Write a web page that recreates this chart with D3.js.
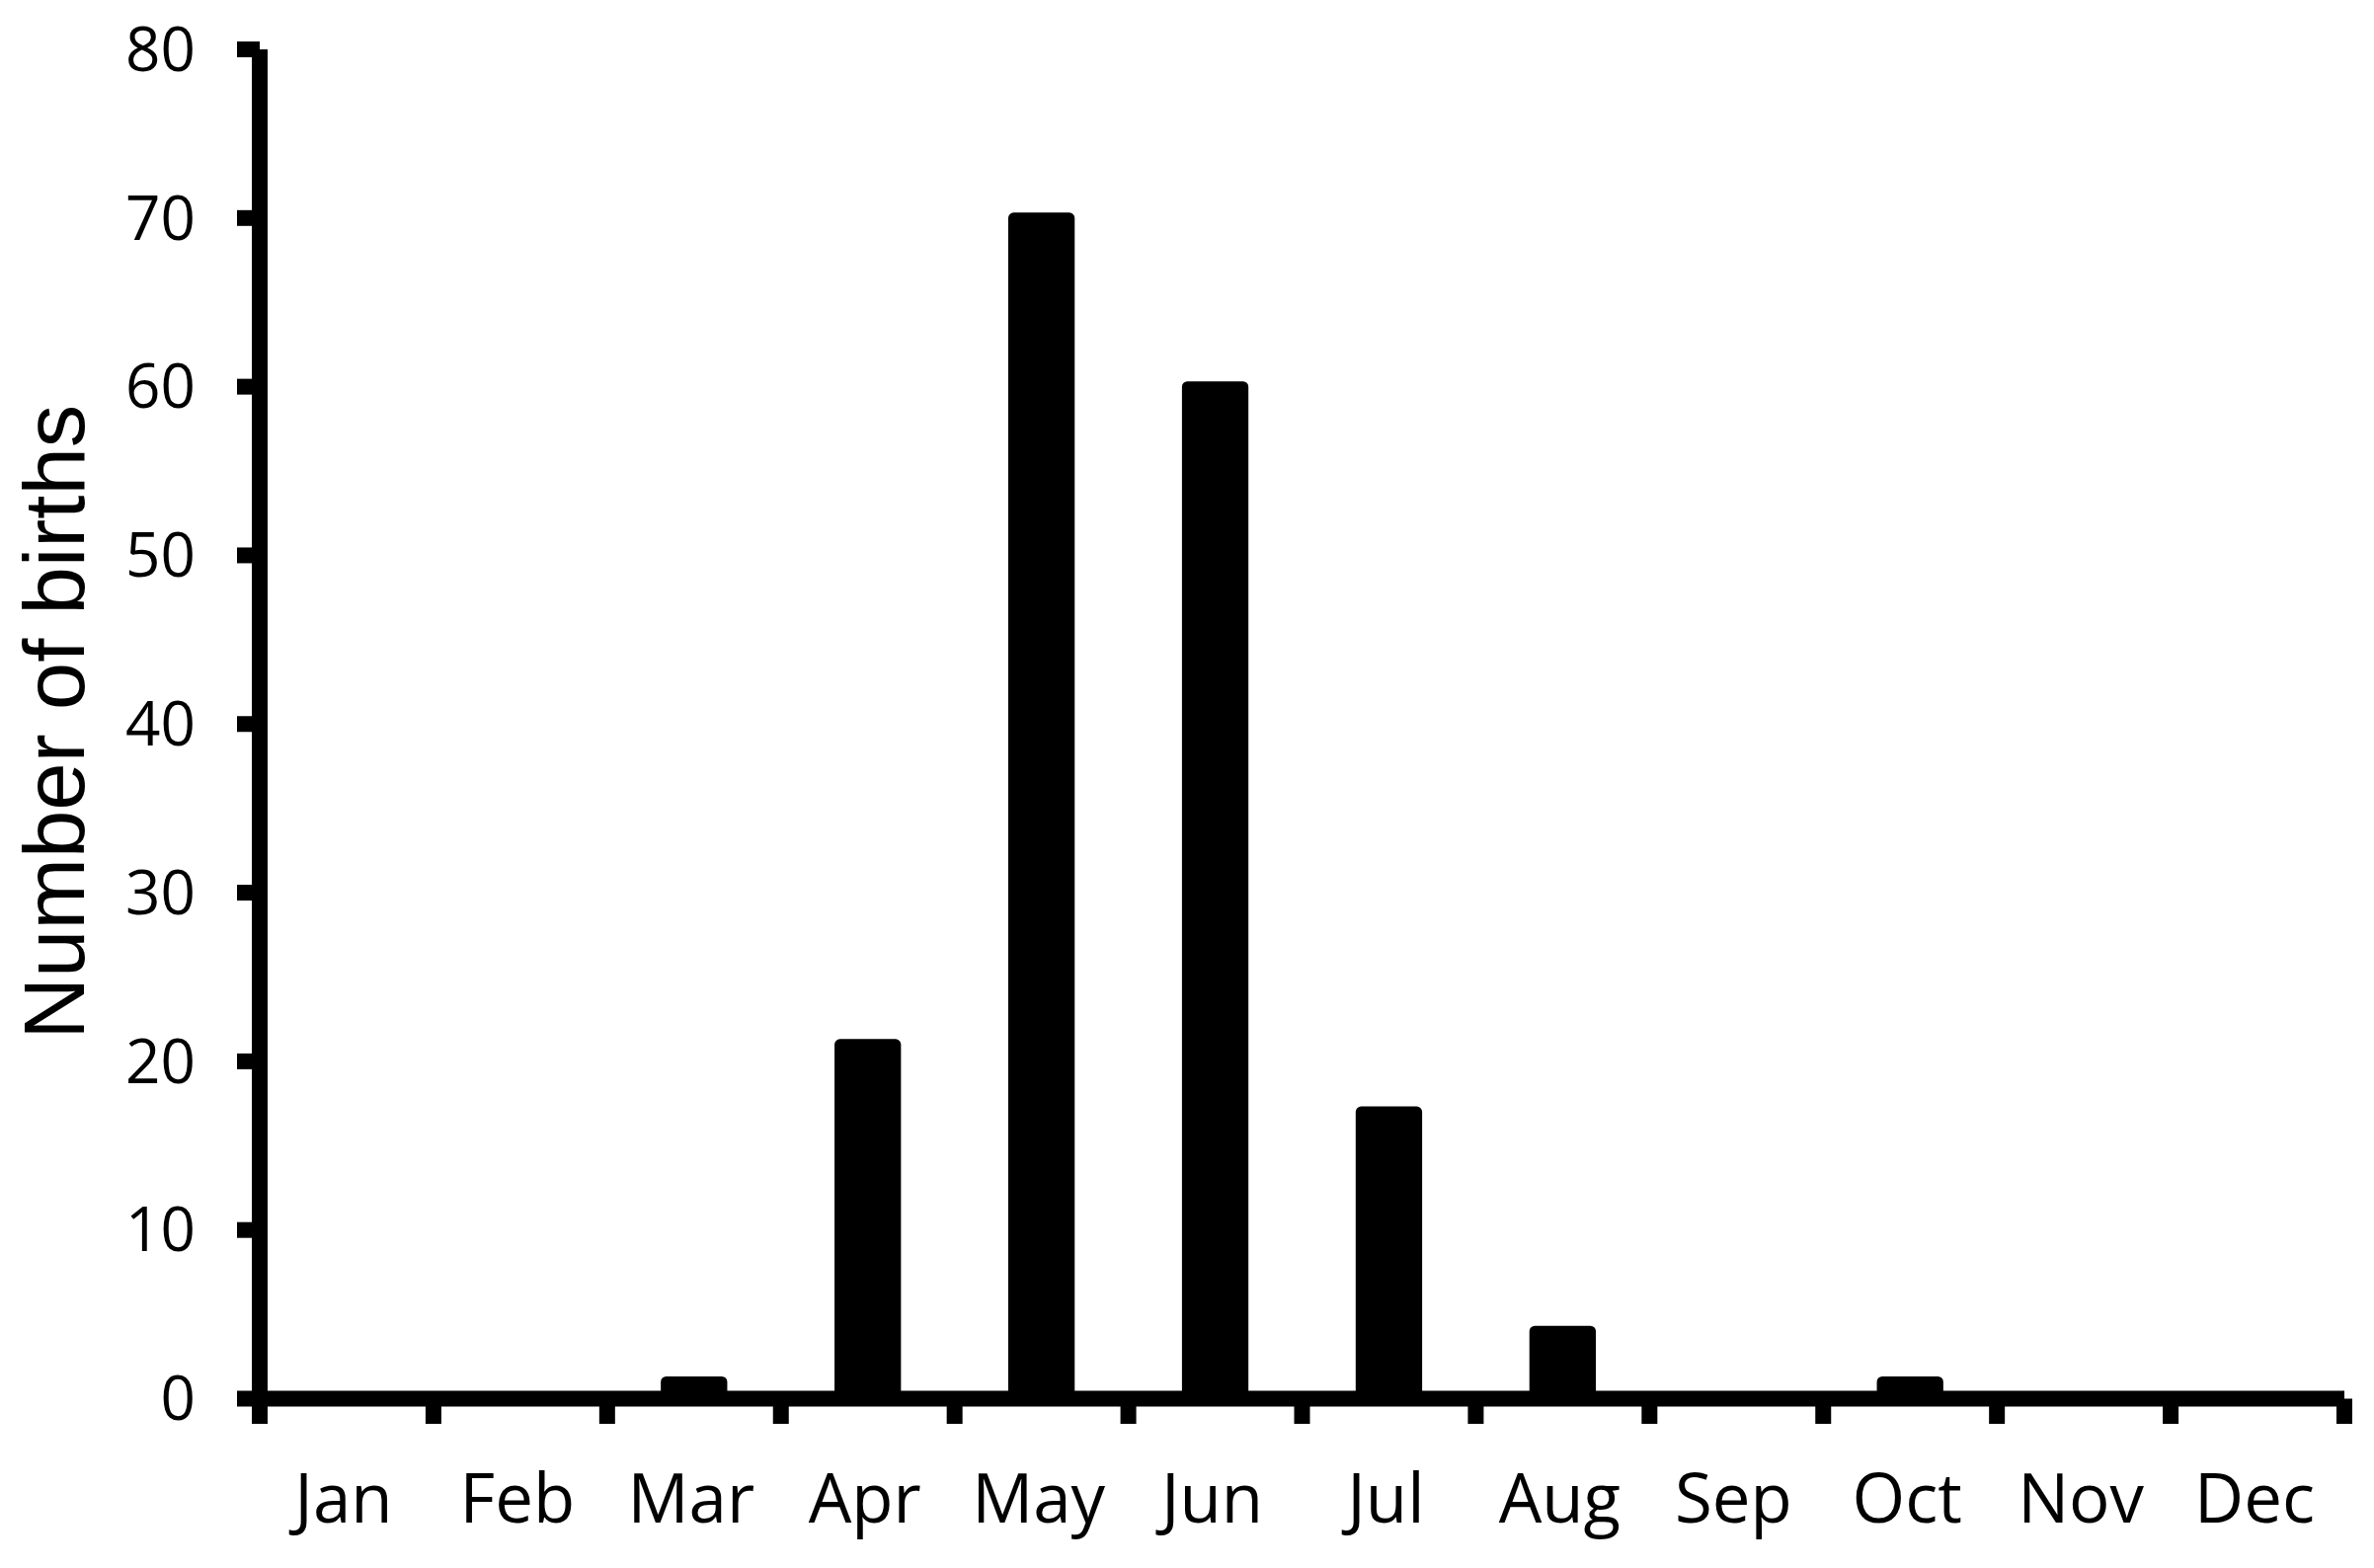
<!DOCTYPE html>
<html><head><meta charset="utf-8">
<script src="https://cdn.jsdelivr.net/npm/d3@7"></script>
<style>html,body{margin:0;padding:0;background:#fff;}</style>
</head><body>
<script>
const months = ["Jan","Feb","Mar","Apr","May","Jun","Jul","Aug","Sep","Oct","Nov","Dec"];
const births = [0,0,1,21,70,60,17,4,0,1,0,0];
const yTicks = [0,10,20,30,40,50,60,70,80];
const yTitle = "Number of births";

const W = 2404, H = 1588;
const svg = d3.select("body").append("svg").attr("width", W).attr("height", H);

const x0 = 263, x1 = 2374, yTop = 50, yBase = 1416.5;
const x = d3.scaleBand().domain(months).range([x0, x1]).padding(0);
const y = d3.scaleLinear().domain([0, 80]).range([yBase, yTop]);
const bw = x.bandwidth() * 0.32;

// bars
svg.append("g").selectAll("rect").data(births).join("rect")
  .attr("x", (d, i) => x(months[i]) + x.bandwidth() / 2 - bw / 2)
  .attr("width", bw)
  .attr("y", d => y(d))
  .attr("height", d => yBase - y(d))
  .attr("fill", "#000")
  .attr("stroke", d => d > 0 ? "#000" : "none")
  .attr("stroke-width", 11)
  .attr("stroke-linejoin", "round");

const axisW = 16, tickDown = 1442;
const g = svg.append("g").attr("stroke", "#000").attr("stroke-width", axisW).attr("stroke-linecap", "butt");
// y-axis line
g.append("line").attr("x1", x0).attr("x2", x0).attr("y1", y(80)).attr("y2", tickDown);
// y ticks
g.selectAll(".yt").data(yTicks).join("line")
  .attr("x1", x0 - 23).attr("x2", x0).attr("y1", d => y(d)).attr("y2", d => y(d));
// x-axis line
g.append("line").attr("x1", x0).attr("x2", x1).attr("y1", yBase).attr("y2", yBase);
// x ticks at band boundaries
const bounds = months.map(m => x(m)).concat([x1]);
g.selectAll(".xt").data(bounds.slice(1)).join("line")
  .attr("x1", d => d).attr("x2", d => d).attr("y1", yBase).attr("y2", tickDown);

// y tick labels
svg.append("g").selectAll("text").data(yTicks).join("text")
  .attr("x", 198).attr("y", d => y(d)).attr("dy", "0.35em")
  .attr("text-anchor", "end")
  .attr("font-family", "'Open Sans', sans-serif").attr("font-size", 62)
  .text(d => d);

// x labels
svg.append("g").selectAll("text").data(months).join("text")
  .attr("x", d => x(d) + x.bandwidth() / 2 - 3).attr("y", 1542)
  .attr("text-anchor", "middle")
  .attr("font-family", "'Open Sans', sans-serif").attr("font-size", 69)
  .text(d => d);

// y title
svg.append("text")
  .attr("transform", `translate(85, ${(yTop + yBase) / 2 - 2}) rotate(-90)`)
  .attr("text-anchor", "middle")
  .attr("font-family", "'Liberation Sans', Arial, sans-serif").attr("font-size", 87)
  .text(yTitle);
</script>
</body></html>
